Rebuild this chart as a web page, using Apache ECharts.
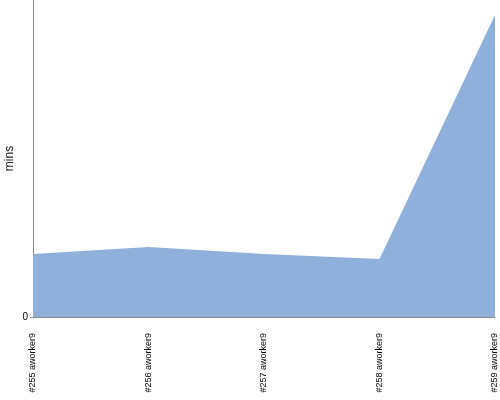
<!DOCTYPE html>
<html><head><meta charset="utf-8">
<script src="https://cdn.jsdelivr.net/npm/echarts@6/dist/echarts.min.js"></script>
<style>html,body{margin:0;padding:0;background:#fff}#c{width:500px;height:400px}</style>
</head><body><div id="c"></div>
<script>
var categories = ["#255 aworker9", "#256 aworker9", "#257 aworker9", "#258 aworker9", "#259 aworker9"];
var durations = [3.97, 4.42, 3.97, 3.66, 19.05];
var yMax = 20;
var chart = echarts.init(document.getElementById('c'), null, {renderer: 'canvas'});
chart.setOption({
  animation: false,
  grid: {left: 33, right: 5, top: 0, bottom: 83, containLabel: false, outerBoundsMode: 'none'},
  xAxis: {
    type: 'category', boundaryGap: false, data: categories,
    axisLine: {lineStyle: {color: '#888', width: 1}},
    axisTick: {show: false},
    axisLabel: {rotate: 90, margin: 16, fontSize: 9, fontFamily: 'Liberation Sans', color: '#000', interval: 0}
  },
  yAxis: {
    type: 'value', min: 0, max: yMax,
    name: 'mins', nameLocation: 'middle', nameGap: 17, nameRotate: 90, nameMoveOverlap: false,
    nameTextStyle: {fontSize: 12, fontFamily: 'Liberation Sans', color: '#222'},
    axisLine: {show: true, lineStyle: {color: '#888', width: 1}},
    axisTick: {show: true, length: 3, customValues: [0], lineStyle: {color: '#888'}},
    splitLine: {show: false},
    axisLabel: {fontSize: 10, fontFamily: 'Liberation Sans', color: '#000', margin: 5, customValues: [0]}
  },
  series: [{
    type: 'line', data: durations, symbol: 'none',
    lineStyle: {width: 0, color: '#8EB0DA'},
    areaStyle: {color: '#8EB0DA', opacity: 1}
  }]
});
</script></body></html>
